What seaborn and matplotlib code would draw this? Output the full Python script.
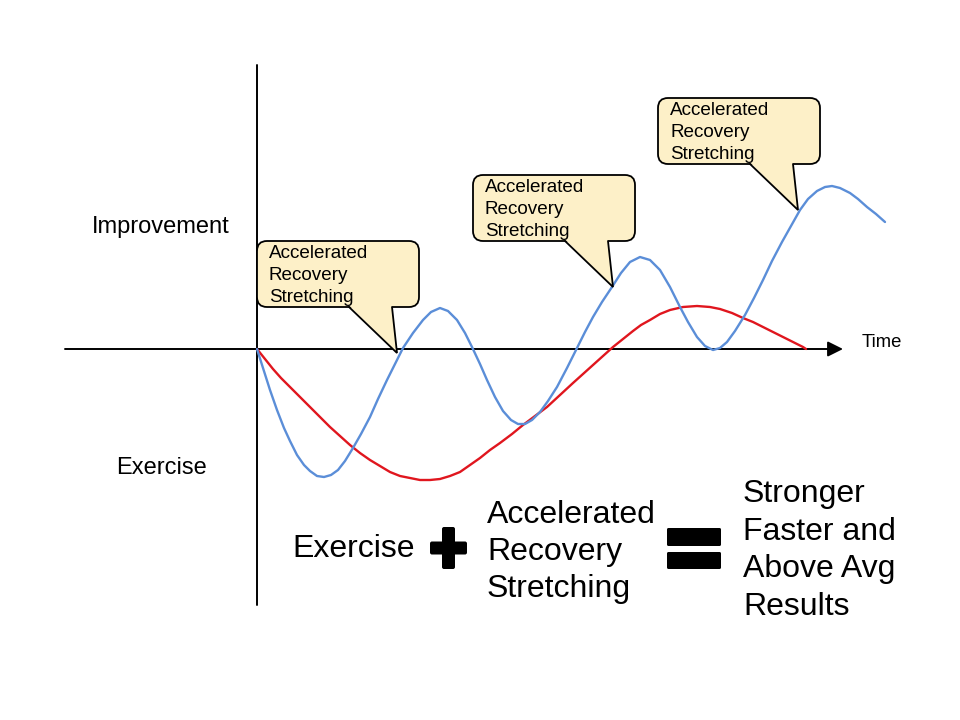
import pandas as pd
import matplotlib.pyplot as plt
import seaborn as sns
from matplotlib.patches import FancyBboxPatch

# curves (time, level)
blue_t = [0, 6, 13, 20, 27, 33, 40, 47, 53, 60, 67, 74, 81, 88, 96, 104, 113, 121,
          130, 138, 146, 156, 166, 174, 183, 191, 200, 208, 215, 223, 230, 238,
          246, 254, 261, 268, 275, 283, 291, 300, 310, 320, 328, 336, 345, 355,
          364, 373, 383, 393, 403, 413, 423, 431, 440, 448, 456, 463, 470, 478,
          488, 497, 506, 515, 525, 534, 543, 551, 560, 568, 575, 583, 593, 601,
          610, 619, 628]
blue_v = [0, -19, -41, -61, -79, -92, -106, -116, -122, -127, -128, -126, -121, -112,
          -99, -85, -68, -50, -31, -15, 1, 16, 29, 37, 41, 38, 29, 16, 2, -15,
          -31, -48, -62, -71, -75, -75, -71, -63, -52, -38, -19, 1, 17, 32, 47,
          62, 76, 87, 92, 89, 79, 62, 42, 27, 12, 3, -1, 1, 7, 18, 34, 51, 69,
          88, 107, 123, 139, 150, 158, 162, 163, 161, 156, 150, 142, 135, 127]

red_t = [0, 8, 16, 24, 33, 43, 53, 63, 73, 83, 93, 103, 113, 123, 133, 143, 153,
         163, 173, 183, 193, 203, 213, 223, 233, 243, 255, 266, 278, 290, 303,
         316, 326, 336, 346, 356, 366, 376, 384, 393, 403, 413, 426, 440, 453,
         463, 475, 486, 496, 506, 516, 526, 536, 546, 549]
red_v = [0, -10, -20, -29, -38, -48, -58, -68, -78, -87, -96, -104, -111, -117,
         -123, -127, -129, -131, -131, -130, -127, -123, -116, -109, -101, -94,
         -85, -76, -67, -58, -46, -34, -25, -16, -7, 2, 10, 18, 24, 29, 35, 39,
         42, 43, 42, 40, 36, 31, 27, 22, 17, 12, 7, 2, 0]

callout_text = ["Accelerated", "Recovery", "Stretching"]
callout_left = [0, 216, 401]
callout_bottom = [42, 108, 185]
callout_tips = [(140, -4), (356, 62), (541, 139)]

result_lines = ["Stronger", "Faster and", "Above Avg", "Results"]

blue = "#5B8ED8"
red = "#E0161E"
box_fill = "#FDF0C8"

sns.set_style("white")
plt.rcParams['font.family'] = ['Liberation Sans', 'DejaVu Sans']
plt.rcParams['text.color'] = 'black'

fig = plt.figure(figsize=(9.6, 7.2), dpi=100)
ax = fig.add_axes([0, 0, 1, 1])
ax.set_xlim(-257, 703)
ax.set_ylim(-371, 349)
ax.axis("off")

df_blue = pd.DataFrame({"t": blue_t, "v": blue_v})
df_red = pd.DataFrame({"t": red_t, "v": red_v})

sns.lineplot(data=df_red, x="t", y="v", ax=ax, color=red, lw=1.7,
             sort=False, estimator=None, zorder=2,
             solid_joinstyle="round", solid_capstyle="round")
sns.lineplot(data=df_blue, x="t", y="v", ax=ax, color=blue, lw=1.7,
             sort=False, estimator=None, zorder=2,
             solid_joinstyle="round", solid_capstyle="round")

# axes
ax.plot([0, 0], [-256, 284], color="black", lw=1.4, zorder=1)
ax.annotate("", xy=(586, 0), xytext=(-192, 0),
            arrowprops=dict(arrowstyle="-|>,head_length=0.4,head_width=0.2",
                            color="black", lw=1.4, mutation_scale=23,
                            shrinkA=0, shrinkB=0), zorder=1)

ax.text(605, 2, "Time", fontsize=13.3, va="baseline", ha="left")
ax.text(-165, 116, "Improvement", fontsize=17, va="baseline", ha="left")
ax.text(-141, -125, "Exercise", fontsize=17, va="baseline", ha="left")

# callouts
box_w = 162
box_h = 66
for left, bottom, tip in zip(callout_left, callout_bottom, callout_tips):
    box = FancyBboxPatch((left, bottom), box_w, box_h,
                         boxstyle="round,pad=0,rounding_size=10",
                         facecolor=box_fill, edgecolor="black", lw=1.3, zorder=3)
    ax.add_patch(box)
    b1 = left + 92
    b2 = left + 135
    ax.fill([b1, tip[0], b2], [bottom + 1.5, tip[1], bottom + 1.5],
            color=box_fill, lw=0, zorder=4)
    ax.plot([b1, tip[0], b2], [bottom, tip[1], bottom], color="black",
            lw=1.3, zorder=4, solid_joinstyle="miter")
    top = bottom + box_h
    for i, line in enumerate(callout_text):
        ax.text(left + 12, top - 17 - 22 * i, line, fontsize=13.6,
                va="baseline", ha="left", zorder=5)

# equation at the bottom
ax.text(35, -208, "Exercise", fontsize=23, va="baseline", ha="left")
for i, line in enumerate(callout_text):
    ax.text(230, -174 - 37 * i, line, fontsize=23, va="baseline", ha="left")
for i, line in enumerate(result_lines):
    ax.text(486, -153 - 37.7 * i, line, fontsize=23, va="baseline", ha="left")

# plus sign
ax.add_patch(FancyBboxPatch((173, -205.5), 37, 13, boxstyle="round,pad=0,rounding_size=2",
                            facecolor="black", edgecolor="none"))
ax.add_patch(FancyBboxPatch((185, -220), 13, 42, boxstyle="round,pad=0,rounding_size=2",
                            facecolor="black", edgecolor="none"))
# equals sign
ax.add_patch(FancyBboxPatch((410, -197), 54, 18, boxstyle="round,pad=0,rounding_size=1.5",
                            facecolor="black", edgecolor="none"))
ax.add_patch(FancyBboxPatch((410, -220), 54, 17, boxstyle="round,pad=0,rounding_size=1.5",
                            facecolor="black", edgecolor="none"))

plt.savefig("out.png", dpi=100)
